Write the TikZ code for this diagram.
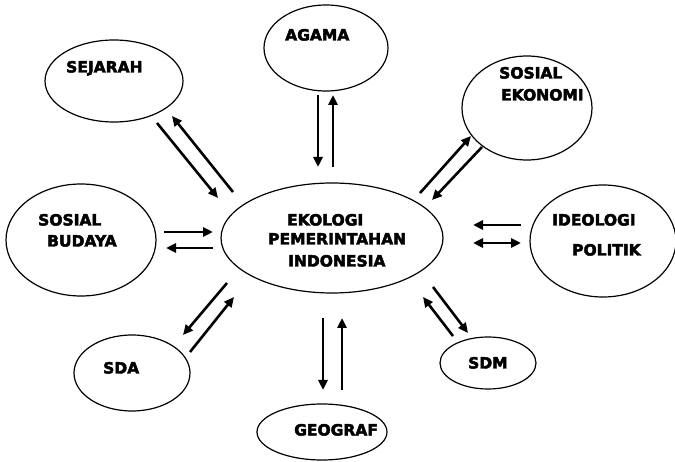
\documentclass[tikz,border=0pt]{standalone}
\usepackage{fontspec}
\setmainfont{DejaVu Sans}
\newfontfamily\lblfont{DejaVu Sans Bold}
% heavier lettering: fill and stroke the glyphs
\newcommand\heavytext[1]{\special{pdf:literal direct 2 Tr 0.45 w}#1\special{pdf:literal direct 0 Tr}}
\usetikzlibrary{shapes.geometric,arrows.meta}
\begin{document}
\begin{tikzpicture}[x=1pt,y=-1pt,
  oval/.style={ellipse,draw,line width=1.2pt,inner sep=0pt},
  lbl/.style={anchor=west,inner sep=0pt,text height=11pt,text depth=0pt,
    font=\lblfont\fontsize{15.5}{20}\selectfont},
  link/.style={line width=2.6pt,-{Triangle[length=10pt,width=9pt]}},
  bilink/.style={line width=2.6pt,{Triangle[length=10pt,width=9pt]}-{Triangle[length=10pt,width=9pt]}}]
\useasboundingbox (0,0) rectangle (675,462);

% ellipses
\node[oval,minimum width=138pt,minimum height=82pt] (sej) at (114,81) {};
\node[oval,minimum width=124pt,minimum height=86pt] (aga) at (326,48) {};
\node[oval,minimum width=130pt,minimum height=104pt] (eko) at (527,108) {};
\node[oval,minimum width=150pt,minimum height=112pt] (bud) at (81,240) {};
\node[oval,minimum width=222pt,minimum height=110pt] (pem) at (332,238) {};
\node[oval,minimum width=146pt,minimum height=112pt] (ide) at (603,241) {};
\node[oval,minimum width=116pt,minimum height=76pt] (sda) at (132,373) {};
\node[oval,minimum width=96pt,minimum height=52pt] (sdm) at (488,363) {};
\node[oval,minimum width=130pt,minimum height=56pt] (geo) at (322,432) {};

% labels
\node[lbl] (tsej) at (66,67) {\heavytext{SEJARAH}};
\node[lbl] (taga) at (285,35) {\heavytext{AGAMA}};
\node[lbl] (teko1) at (499,73) {\heavytext{SOSIAL}};
\node[lbl] (teko2) at (501,95) {\heavytext{EKONOMI}};
\node[lbl] (tbud1) at (38,220) {\heavytext{SOSIAL}};
\node[lbl] (tbud2) at (47,241) {\heavytext{BUDAYA}};
\node[lbl] (tpem1) at (287,220) {\heavytext{EKOLOGI}};
\node[lbl] (tpem2) at (268,239) {\heavytext{PEMERINTAHAN}};
\node[lbl] (tpem3) at (288,261) {\heavytext{INDONESIA}};
\node[lbl] (tide1) at (552,220) {\heavytext{IDEOLOGI}};
\node[lbl] (tide2) at (572,250) {\heavytext{POLITIK}};
\node[lbl] (tsda) at (103,368) {\heavytext{SDA}};
\node[lbl] (tsdm) at (468,363) {\heavytext{SDM}};
\node[lbl] (tgeo) at (294,430) {\heavytext{GEOGRAF}};

% arrow end points
\coordinate (s1a) at (157,123); \coordinate (s1b) at (218,198);
\coordinate (s2a) at (233,192); \coordinate (s2b) at (172,116);
\coordinate (g1a) at (318,95);  \coordinate (g1b) at (318,167);
\coordinate (g2a) at (333,167); \coordinate (g2b) at (333,95);
\coordinate (e1a) at (420,193); \coordinate (e1b) at (471,136);
\coordinate (e2a) at (482,147); \coordinate (e2b) at (432,200);
\coordinate (b1a) at (164,232); \coordinate (b1b) at (213,232);
\coordinate (b2a) at (213,248); \coordinate (b2b) at (166,248);
\coordinate (i1a) at (521,225); \coordinate (i1b) at (473,225);
\coordinate (i2a) at (473,243); \coordinate (i2b) at (521,243);
\coordinate (d1a) at (227,283); \coordinate (d1b) at (183,335);
\coordinate (d2a) at (190,352); \coordinate (d2b) at (234,297);
\coordinate (m1a) at (433,287); \coordinate (m1b) at (468,333);
\coordinate (m2a) at (453,336); \coordinate (m2b) at (423,297);
\coordinate (f1a) at (323,318); \coordinate (f1b) at (323,390);
\coordinate (f2a) at (342,390); \coordinate (f2b) at (342,318);

% arrows
\draw[link] (s1a) -- (s1b);
\draw[link] (s2a) -- (s2b);
\draw[link] (g1a) -- (g1b);
\draw[link] (g2a) -- (g2b);
\draw[link] (e1a) -- (e1b);
\draw[link] (e2a) -- (e2b);
\draw[link] (b1a) -- (b1b);
\draw[link] (b2a) -- (b2b);
\draw[link] (i1a) -- (i1b);
\draw[bilink] (i2a) -- (i2b);
\draw[link] (d1a) -- (d1b);
\draw[link] (d2a) -- (d2b);
\draw[link] (m1a) -- (m1b);
\draw[link] (m2a) -- (m2b);
\draw[link] (f1a) -- (f1b);
\draw[link] (f2a) -- (f2b);
\end{tikzpicture}
\end{document}
